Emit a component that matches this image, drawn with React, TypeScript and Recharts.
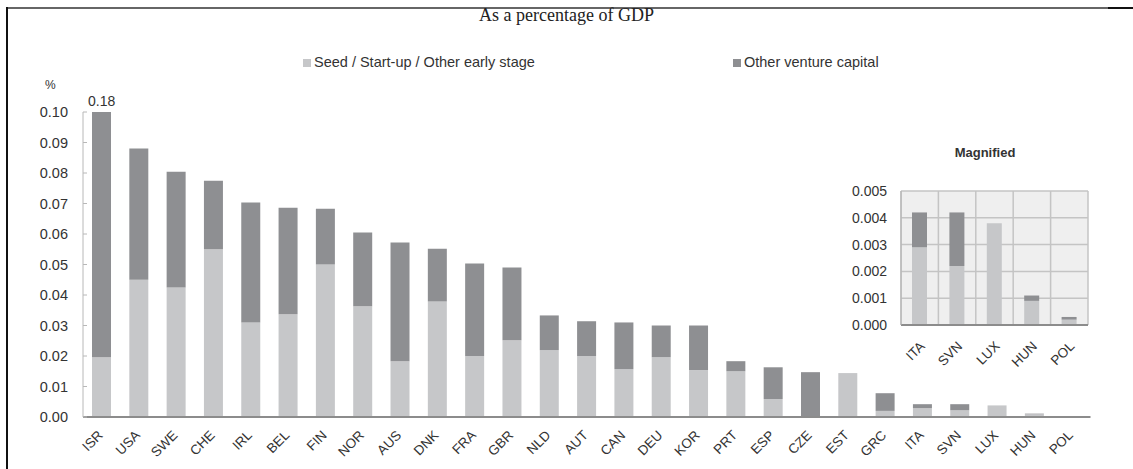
import React from 'react';
import { BarChart, Bar, XAxis, YAxis, CartesianGrid, ReferenceDot } from 'recharts';

const categories = ['ISR', 'USA', 'SWE', 'CHE', 'IRL', 'BEL', 'FIN', 'NOR', 'AUS', 'DNK', 'FRA', 'GBR', 'NLD', 'AUT', 'CAN', 'DEU', 'KOR', 'PRT', 'ESP', 'CZE', 'EST', 'GRC', 'ITA', 'SVN', 'LUX', 'HUN', 'POL'];
const seedValues = [0.0196, 0.045, 0.0425, 0.055, 0.031, 0.0337, 0.05, 0.0363, 0.0183, 0.0379, 0.02, 0.0252, 0.0219, 0.02, 0.0157, 0.0196, 0.0154, 0.015, 0.0059, 0, 0.0144, 0.002, 0.0029, 0.0022, 0.0038, 0.0009, 0.0002];
const otherValues = [0.1604, 0.043, 0.0379, 0.0225, 0.0393, 0.0349, 0.0183, 0.0242, 0.0389, 0.0173, 0.0303, 0.0238, 0.0114, 0.0114, 0.0153, 0.0104, 0.0146, 0.0033, 0.0104, 0.0147, 0, 0.0058, 0.0013, 0.002, 0, 0.0002, 0.0001];
const mainTicks = [0, 0.01, 0.02, 0.03, 0.04, 0.05, 0.06, 0.07, 0.08, 0.09, 0.1];
const insetTicks = [0, 0.001, 0.002, 0.003, 0.004, 0.005];
const insetCategories = ['ITA', 'SVN', 'LUX', 'HUN', 'POL'];
const seriesNames = ['Seed / Start-up / Other early stage', 'Other venture capital'];
const titleText = 'As a percentage of GDP';
const insetTitle = 'Magnified';
const unitLabel = '%';

const data = categories.map((c, i) => ({ country: c, seed: seedValues[i], other: otherValues[i] }));
const insetData = data.filter((d) => insetCategories.includes(d.country));
const overflowItem = data[0];

const SEED = '#c6c7c9';
const OTHER = '#8e8f92';
const TEXT = '#333';
const FONT = '"Liberation Sans", Arial, sans-serif';

const MainXTick = (props: any) => {
  const { x, y, payload } = props;
  return (
    <text x={x + 2} y={y} textAnchor="end" fontSize={13.5} fill={TEXT} fontFamily={FONT} transform={`rotate(-45, ${x + 2}, ${y})`}>
      {payload.value}
    </text>
  );
};

const InsetXTick = (props: any) => {
  const { x, y, payload } = props;
  return (
    <text x={x + 6} y={y} textAnchor="end" fontSize={13.5} fill={TEXT} fontFamily={FONT} transform={`rotate(-45, ${x + 6}, ${y})`}>
      {payload.value}
    </text>
  );
};

const MainYTick = (props: any) => {
  const { x, y, payload } = props;
  return (
    <g>
      <text x={x} y={y} dy="0.35em" textAnchor="end" fontSize={14.5} fill={TEXT} fontFamily={FONT}>
        {payload.value.toFixed(2)}
      </text>
      <line x1={x + 15} x2={x + 19} y1={y} y2={y} stroke="#b8b8b8" />
    </g>
  );
};

const InsetYTick = (props: any) => {
  const { x, y, payload } = props;
  return (
    <text x={x} y={y} dy="0.35em" textAnchor="end" fontSize={14} fill={TEXT} fontFamily={FONT}>
      {payload.value.toFixed(3)}
    </text>
  );
};

const bandLines = (args: any) => {
  const off = args && args.offset;
  if (!off) return [];
  const n = insetCategories.length;
  return Array.from({ length: n + 1 }, (_, i) => off.left + (i * off.width) / n);
};

export default function App() {
  return (
    <div style={{ position: 'absolute', left: 0, top: 0, width: 1133, height: 469, background: '#fff', fontFamily: FONT, overflow: 'hidden' }}>
      {/* frame */}
      <div style={{ position: 'absolute', left: 7, top: 7, width: 1101, height: 2, background: '#666' }} />
      <div style={{ position: 'absolute', left: 1108, top: 7, width: 25, height: 2, background: '#111' }} />
      <div style={{ position: 'absolute', left: 6, top: 7, width: 2, height: 462, background: '#111' }} />

      <div style={{ position: 'absolute', left: 0, top: 5, width: 1133, textAlign: 'center', fontFamily: '"Liberation Serif", "Times New Roman", serif', fontSize: 18, lineHeight: '20px', color: '#222' }}>
        {titleText}
      </div>

      {/* legend */}
      <div style={{ position: 'absolute', left: 303, top: 54, fontSize: 14.5, lineHeight: '16px', color: TEXT, whiteSpace: 'nowrap' }}>
        <span style={{ display: 'inline-block', width: 8, height: 8, background: SEED, marginRight: 3 }} />
        {seriesNames[0]}
      </div>
      <div style={{ position: 'absolute', left: 733, top: 54, fontSize: 14.5, lineHeight: '16px', color: TEXT, whiteSpace: 'nowrap' }}>
        <span style={{ display: 'inline-block', width: 8, height: 8, background: OTHER, marginRight: 3 }} />
        {seriesNames[1]}
      </div>

      <div style={{ position: 'absolute', left: 45, top: 78, fontSize: 12, color: TEXT }}>{unitLabel}</div>

      <div style={{ position: 'absolute', left: 0, top: 0 }}>
        <BarChart width={1133} height={469} data={data} margin={{ top: 112, right: 42.5, bottom: 12, left: 23 }}>
          <XAxis dataKey="country" interval={0} height={40} tickSize={0} tickMargin={19} tick={<MainXTick />} axisLine={{ stroke: '#8c8c8c', strokeWidth: 2 }} tickLine={false} />
          <YAxis width={60} domain={[0, 0.1]} ticks={mainTicks} allowDataOverflow interval={0} tickSize={4} tickMargin={11} tick={<MainYTick />} tickLine={false} axisLine={{ stroke: '#b8b8b8' }} />
          <Bar dataKey="seed" stackId="a" fill={SEED} barSize={19} isAnimationActive={false} />
          <Bar dataKey="other" stackId="a" fill={OTHER} barSize={19} isAnimationActive={false} />
          <ReferenceDot x={overflowItem.country} y={0.1} r={0} ifOverflow="visible" label={{ value: (overflowItem.seed + overflowItem.other).toFixed(2), position: 'top', offset: 6, fontSize: 14, fill: TEXT, fontFamily: FONT }} />
        </BarChart>
      </div>

      <div style={{ position: 'absolute', left: 935, top: 145, width: 100, textAlign: 'center', fontSize: 13, fontWeight: 'bold', color: TEXT }}>
        {insetTitle}
      </div>

      <div style={{ position: 'absolute', left: 840, top: 140 }}>
        <BarChart width={260} height={240} data={insetData} margin={{ top: 51, right: 12, bottom: 10, left: 11 }}>
          <CartesianGrid fill="#efefef" stroke="#c4c4c4" strokeWidth={1.5} verticalCoordinatesGenerator={bandLines} />
          <XAxis dataKey="country" interval={0} height={45} tickSize={0} tickMargin={22} tick={<InsetXTick />} axisLine={{ stroke: '#8c8c8c', strokeWidth: 2 }} tickLine={false} />
          <YAxis width={50} domain={[0, 0.005]} ticks={insetTicks} interval={0} tickSize={4} tickMargin={10} tick={<InsetYTick />} tickLine={false} axisLine={{ stroke: '#b0b0b0' }} />
          <Bar dataKey="seed" stackId="b" fill={SEED} barSize={15} isAnimationActive={false} />
          <Bar dataKey="other" stackId="b" fill={OTHER} barSize={15} isAnimationActive={false} />
        </BarChart>
      </div>
    </div>
  );
}
